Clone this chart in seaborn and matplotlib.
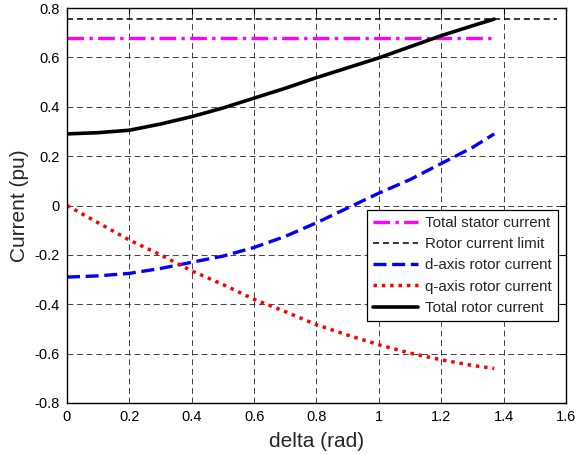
import matplotlib
matplotlib.use("Agg")
import matplotlib.pyplot as plt
import seaborn as sns
import numpy as np
import pandas as pd

# ---- data ----
delta = [0.0, 0.1, 0.2, 0.3, 0.4, 0.5, 0.6, 0.7, 0.8, 0.9, 1.0, 1.1, 1.2, 1.3, 1.37]
d_axis = [-0.29, -0.285, -0.275, -0.255, -0.23, -0.205, -0.17, -0.125, -0.07, -0.01,
          0.05, 0.105, 0.17, 0.235, 0.29]
q_axis = [0.0, -0.07, -0.14, -0.2, -0.265, -0.32, -0.38, -0.43, -0.483, -0.525,
          -0.564, -0.598, -0.625, -0.648, -0.66]
total_rotor = [0.29, 0.295, 0.305, 0.33, 0.36, 0.395, 0.435, 0.475, 0.518, 0.558,
               0.598, 0.643, 0.688, 0.728, 0.755]
stator_x = [0.0, 1.37]
stator_y = [0.678, 0.678]
limit_x = [0.0, 1.57]
limit_y = [0.755, 0.755]

xticks = [0, 0.2, 0.4, 0.6, 0.8, 1, 1.2, 1.4, 1.6]
yticks = [-0.8, -0.6, -0.4, -0.2, 0, 0.2, 0.4, 0.6, 0.8]
xtick_labels = ["0", "0.2", "0.4", "0.6", "0.8", "1", "1.2", "1.4", "1.6"]
ytick_labels = ["-0.8", "-0.6", "-0.4", "-0.2", "0", "0.2", "0.4", "0.6", "0.8"]

sns.set_style("white")
plt.rcParams['font.family'] = ['Liberation Sans', 'DejaVu Sans']

fig = plt.figure(figsize=(5.76, 4.55), dpi=100)
ax = fig.add_axes([0.1163, 0.1143, 0.8663, 0.8681])

sns.lineplot(x=stator_x, y=stator_y, ax=ax, color="#ff00ff", lw=2.4,
             label="Total stator current", sort=False)
ax.lines[-1].set_dashes((5, 1.6, 1, 1.6))
sns.lineplot(x=limit_x, y=limit_y, ax=ax, color="black", lw=1.1,
             label="Rotor current limit", sort=False)
ax.lines[-1].set_dashes((4, 2.5))
sns.lineplot(x=delta, y=d_axis, ax=ax, color="#0000ff", lw=2.4,
             label="d-axis rotor current", sort=False)
ax.lines[-1].set_dashes((3.9, 1.7))
sns.lineplot(x=delta, y=q_axis, ax=ax, color="#ff0000", lw=2.5,
             label="q-axis rotor current", sort=False)
ax.lines[-1].set_dashes((1, 1.4))
sns.lineplot(x=delta, y=total_rotor, ax=ax, color="black", lw=2.6,
             label="Total rotor current", sort=False)

ax.set_xlim(0, 1.6)
ax.set_ylim(-0.8, 0.8)
ax.set_xticks(xticks)
ax.set_xticklabels(xtick_labels)
ax.set_yticks(yticks)
ax.set_yticklabels(ytick_labels)
ax.tick_params(direction="in", length=4, width=0.8, labelsize=10.5, colors="black",
               top=True, right=True, pad=5)
ax.grid(True, color="#222222", linestyle=(0, (7, 4.5)), linewidth=0.6)
for s in ax.spines.values():
    s.set_color("black")
    s.set_linewidth(1.0)
    s.set_visible(True)

ax.set_xlabel("delta (rad)", fontsize=15, labelpad=6)
ax.set_ylabel("Current (pu)", fontsize=15, labelpad=4)

leg = ax.legend(loc="upper left", bbox_to_anchor=(0.601, 0.489), borderaxespad=0,
                fontsize=10.9, frameon=True, fancybox=False, edgecolor="black",
                framealpha=1, handlelength=3.0, labelspacing=0.48, borderpad=0.4,
                handletextpad=0.45)
leg.get_frame().set_linewidth(0.9)
dash_list = [(5, 1.6, 1, 1.6), (4, 2.5), (3.9, 1.7), (1, 1.4), None]
for h, d in zip(leg.get_lines(), dash_list):
    if d is not None:
        h.set_dashes(d)

fig.savefig("out.png", dpi=100)
